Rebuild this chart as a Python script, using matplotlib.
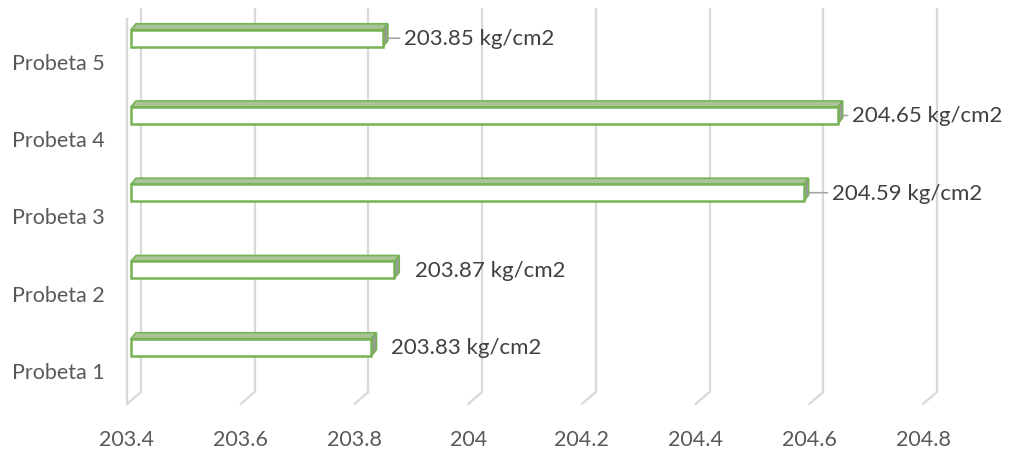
import matplotlib
matplotlib.use("Agg")
import matplotlib.pyplot as plt
import matplotlib.transforms as mtransforms
from matplotlib.patches import Polygon

plt.rcParams['font.family'] = ['Lato', 'DejaVu Sans']

probetas = ["Probeta 1", "Probeta 2", "Probeta 3", "Probeta 4", "Probeta 5"]
valores = [203.83, 203.87, 204.59, 204.65, 203.85]
etiquetas = ["203.83 kg/cm2", "203.87 kg/cm2", "204.59 kg/cm2", "204.65 kg/cm2", "203.85 kg/cm2"]
ticks_x = [203.4, 203.6, 203.8, 204.0, 204.2, 204.4, 204.6, 204.8]
ticks_txt = ["203.4", "203.6", "203.8", "204", "204.2", "204.4", "204.6", "204.8"]

W, H = 1014, 452
fig = plt.figure(figsize=(W / 100, H / 100), dpi=100)
ax = fig.add_axes([127 / W, (H - 409.6) / H, (923 - 127) / W, 386.2 / H])
ax.set_xlim(203.4, 204.8)
ax.set_ylim(-0.5, 4.5)
for s in ax.spines.values():
    s.set_visible(False)
ax.set_xticks(ticks_x, ticks_txt)
ax.set_yticks(range(len(probetas)), probetas)
ax.tick_params(length=0, colors='#595959', labelsize=15.5)
ax.tick_params(axis='x', pad=15)
ax.tick_params(axis='y', pad=16)

gris = '#d9d9d9'
verde = '#77b255'
# 3D-like gridlines: back wall + floor diagonal
blend = mtransforms.blended_transform_factory(ax.transData, ax.transAxes)
back = blend + mtransforms.ScaledTranslation(0.14, 0.12, fig.dpi_scale_trans)
piso = 0.012
for t in ticks_x:
    ax.plot([t, t], [piso, 1.006], transform=back, color=gris, lw=1.6,
            clip_on=False, zorder=0, solid_capstyle='butt')
    ax.annotate("", xy=(t, piso), xycoords=blend, xytext=(14, 12),
                textcoords='offset pixels', annotation_clip=False,
                arrowprops=dict(arrowstyle='-', color=gris, lw=1.6,
                                shrinkA=0, shrinkB=0))
ax.plot([203.4, 203.4], [piso, 1.009], transform=blend, color=gris, lw=1.6,
        clip_on=False, zorder=0)

# bars with depth
alto = 0.22
dx, dy = 5, 6
ident = mtransforms.IdentityTransform()
desp = [20, 21, 28, 14, 21]
lider = [False, False, True, True, True]
for i, v in enumerate(valores):
    yc = i + 0.295
    (x0, y0), (x1, y1) = ax.transData.transform([(203.4, yc - alto / 2), (v, yc + alto / 2)])
    x0 += 4
    sup = Polygon([(x0, y1), (x1, y1), (x1 + dx, y1 + dy), (x0 + dx, y1 + dy)],
                  closed=True, facecolor='#a9c496', edgecolor=verde, lw=1.2,
                  transform=ident, zorder=3)
    lat = Polygon([(x1, y0), (x1 + dx, y0 + dy), (x1 + dx, y1 + dy), (x1, y1)],
                  closed=True, facecolor='#9a9a9a', edgecolor=verde, lw=1.2,
                  transform=ident, zorder=3)
    frente = Polygon([(x0, y0), (x1, y0), (x1, y1), (x0, y1)], closed=True,
                     facecolor='white', edgecolor=verde, lw=1.8,
                     transform=ident, zorder=4)
    for p in (sup, lat, frente):
        ax.add_patch(p)
    props = None
    if lider[i]:
        props = dict(arrowstyle='-', color='#a6a6a6', lw=1.2, shrinkA=1, shrinkB=4)
    ax.annotate(etiquetas[i], xy=(v, yc), xytext=(desp[i], 0),
                textcoords='offset pixels', ha='left', va='center',
                fontsize=16, color='#404040', arrowprops=props,
                annotation_clip=False, zorder=5)

fig.savefig("out.png", dpi=100)
